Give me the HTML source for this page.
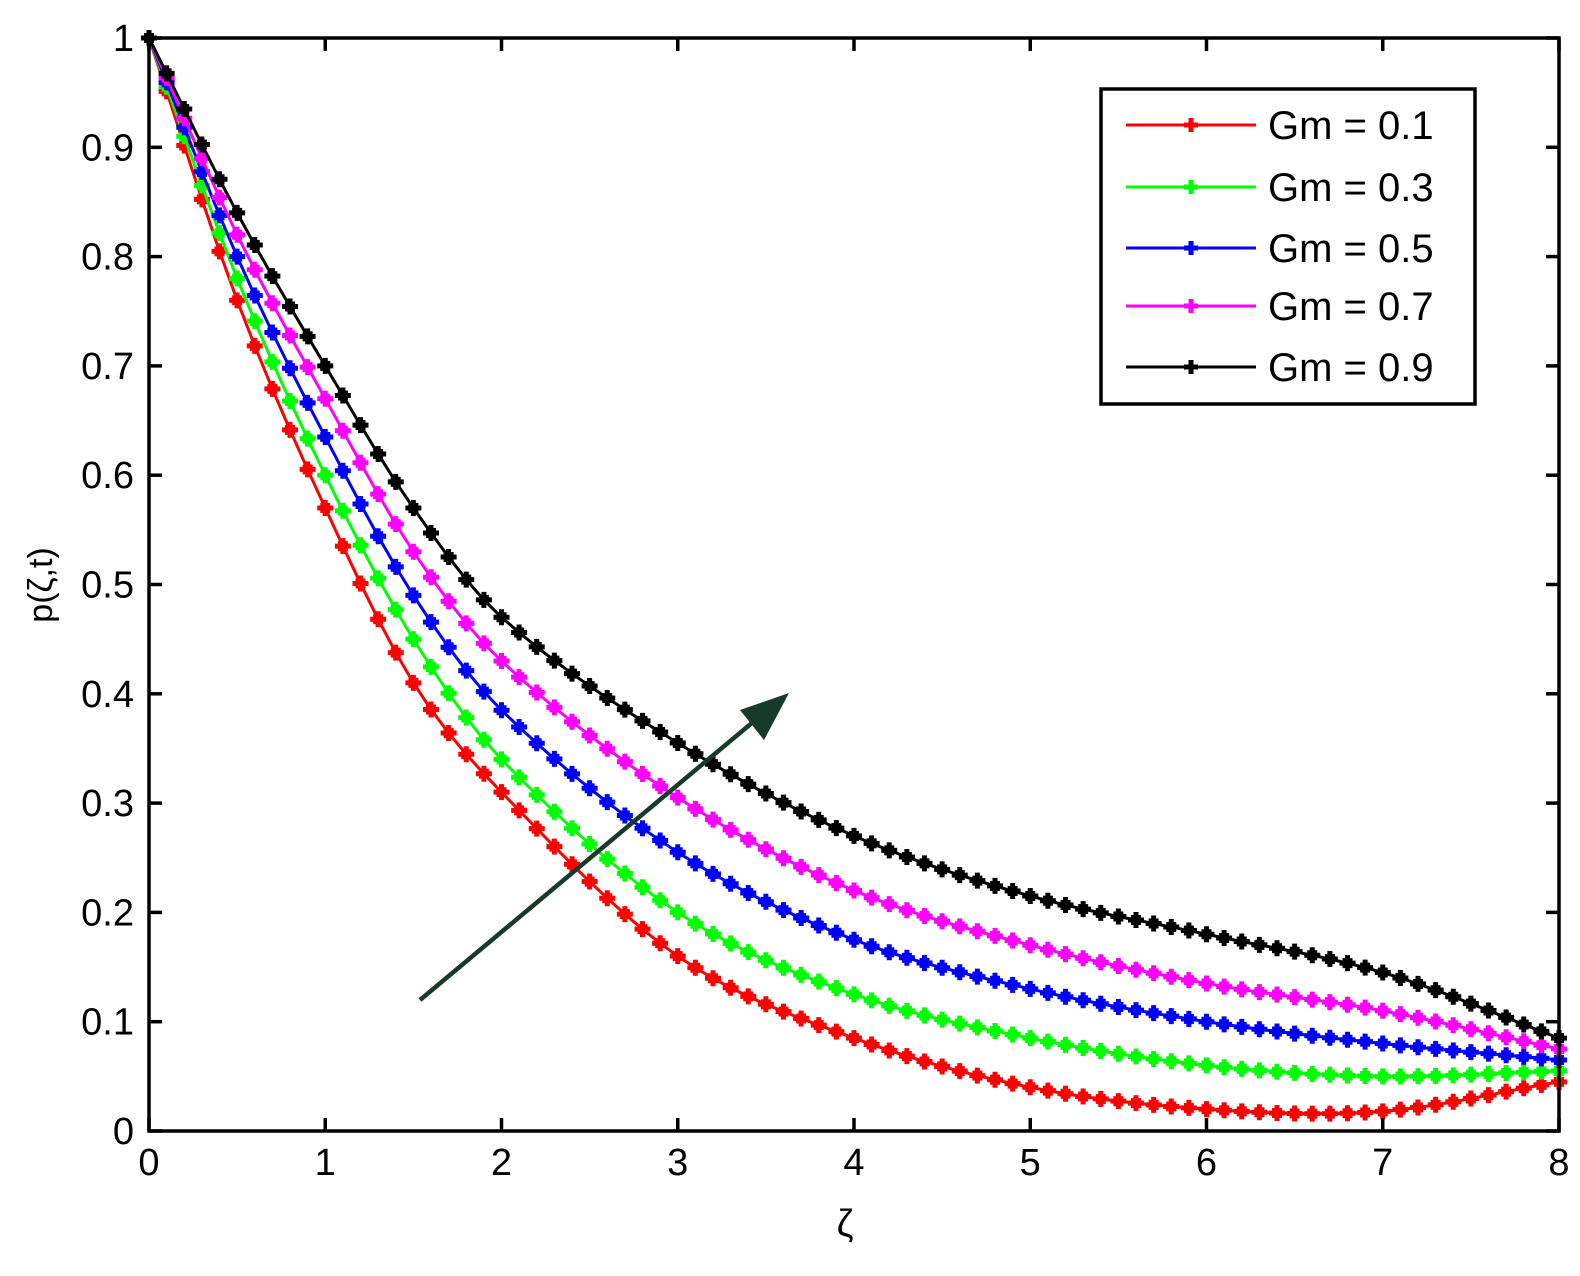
<!DOCTYPE html>
<html><head><meta charset="utf-8"><style>
body{margin:0;background:#fff;width:1580px;height:1271px;overflow:hidden}
svg text{font-family:"Liberation Sans",Arial,sans-serif;fill:#000}
</style></head><body>
<svg id="s" width="1580" height="1271" xmlns="http://www.w3.org/2000/svg">
<g id="curves"></g>
<rect x="149" y="38" width="1410" height="1093" fill="none" stroke="#000" stroke-width="3.5"/>
<g id="ticks" stroke="#000" stroke-width="3.5"></g>
<g id="labels" font-size="38"></g>
<text x="845" y="1236" font-size="38" text-anchor="middle">ζ</text>
<text transform="translate(52,585) rotate(-90)" font-size="34" text-anchor="middle">p(ζ,t)</text>
<line x1="420" y1="1000" x2="765" y2="712" stroke="#173a2a" stroke-width="4.5"/>
<polygon points="789,693 740,710 764,740" fill="#173a2a"/>
<g id="legend"></g>
</svg>
<script>
const X=v=>149+v*176.25, Y=v=>1131-v*1093;
const ns="http://www.w3.org/2000/svg";
function el(t,a,p){const e=document.createElementNS(ns,t);for(const k in a)e.setAttribute(k,a[k]);p.appendChild(e);return e;}
const xs=[0,0.5,1,1.5,2,3,4,5,6,7,8];
const data=[
 ["#ff0000",[1,0.76,0.57,0.41,0.31,0.16,0.085,0.04,0.02,0.018,0.045]],
 ["#00ff00",[1,0.78,0.60,0.45,0.34,0.20,0.125,0.085,0.06,0.05,0.055]],
 ["#0000ff",[1,0.80,0.635,0.49,0.385,0.255,0.175,0.13,0.10,0.08,0.065]],
 ["#ff00ff",[1,0.82,0.67,0.53,0.43,0.305,0.22,0.17,0.135,0.11,0.075]],
 ["#000000",[1,0.84,0.70,0.57,0.47,0.355,0.27,0.215,0.18,0.145,0.085]]];
function interp(ys,x){
 let i=0;while(i<xs.length-2&&x>xs[i+1])i++;
 const p0=ys[Math.max(i-1,0)],p1=ys[i],p2=ys[i+1],p3=ys[Math.min(i+2,ys.length-1)];
 const x0=xs[Math.max(i-1,0)],x1=xs[i],x2=xs[i+1],x3=xs[Math.min(i+2,xs.length-1)];
 const h=x2-x1,t=(x-x1)/h;
 const m1=(p2-(i>0?p0:p1))/((i>0?x2-x0:h))*h, m2=((i+2<xs.length?p3:p2)-p1)/((i+2<xs.length?x3-x1:h))*h;
 const t2=t*t,t3=t2*t;
 return (2*t3-3*t2+1)*p1+(t3-2*t2+t)*m1+(-2*t3+3*t2)*p2+(t3-t2)*m2;
}
function mark(px,py,c,p){
 el("path",{d:`M${px-8},${py}H${px+8}M${px},${py-8}V${py+8}`,stroke:c,"stroke-width":5},p);
 el("rect",{x:px-5,y:py-5,width:10,height:10,fill:c},p);
}
const g=document.getElementById("curves");
data.forEach(([c,ys])=>{
 let pts=[];for(let k=0;k<=80;k++){const x=k/10;pts.push([X(x),Y(interp(ys,x))]);}
 el("polyline",{points:pts.map(p=>p.join(",")).join(" "),fill:"none",stroke:c,"stroke-width":3},g);
 pts.forEach(([px,py])=>mark(px,py,c,g));
});
const tk=document.getElementById("ticks"),lb=document.getElementById("labels");
for(let i=0;i<=8;i++){const x=X(i);
 el("line",{x1:x,y1:1131,x2:x,y2:1118},tk);el("line",{x1:x,y1:38,x2:x,y2:51},tk);
 el("text",{x:x,y:1175,"text-anchor":"middle"},lb).textContent=i;}
for(let i=0;i<=10;i++){const y=Y(i/10);
 el("line",{x1:149,y1:y,x2:162,y2:y},tk);el("line",{x1:1559,y1:y,x2:1546,y2:y},tk);
 el("text",{x:134,y:y+13,"text-anchor":"end"},lb).textContent=i==0?"0":i==10?"1":(i/10).toFixed(1);}
const lg=document.getElementById("legend");
el("rect",{x:1101,y:89,width:374,height:315,fill:"#fff",stroke:"#000","stroke-width":3.5},lg);
const names=["0.1","0.3","0.5","0.7","0.9"],rows=[125,187,248,306,367];
data.forEach(([c],i)=>{const y=rows[i];
 el("line",{x1:1126,y1:y,x2:1256,y2:y,stroke:c,"stroke-width":3},lg);
 el("path",{d:`M1184,${y}H1198M1191,${y-7}V${y+7}`,stroke:c,"stroke-width":5},lg);
 const t=el("text",{x:1268,y:y+14,"font-size":40},lg);t.textContent="Gm = "+names[i];});
</script>
</body></html>
